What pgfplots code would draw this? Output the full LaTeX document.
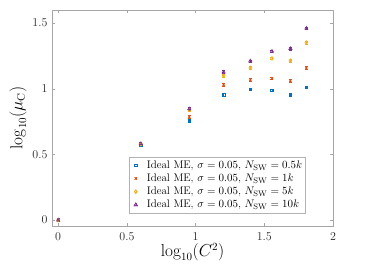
\documentclass[border=0pt]{standalone}
\usepackage{pgfplots}
\pgfplotsset{compat=1.18}
\definecolor{mblue}{rgb}{0,0.447,0.741}
\definecolor{morange}{rgb}{0.85,0.325,0.098}
\definecolor{myellow}{rgb}{0.929,0.694,0.125}
\definecolor{mpurple}{rgb}{0.494,0.184,0.556}
\begin{document}
\begin{tikzpicture}
\begin{axis}[name=ax,
  scale only axis, width=281pt, height=216pt,
  xmin=-0.045, xmax=2, ymin=-0.045, ymax=1.6,
  xtick={0,0.5,1,1.5,2}, ytick={0,0.5,1,1.5},
  tick align=inside, tick pos=both,
  major tick length=3pt,
  axis line style={gray!70}, tick style={gray!70},
  ticklabel style={font=\large, text=black!85},
  xticklabel style={yshift=-3pt},
  yticklabel style={xshift=-1pt},
  xlabel={\fontsize{16}{18}\selectfont$\log_{10}(C^2)$},
  ylabel={\fontsize{16}{18}\selectfont$\log_{10}(\mu_{\mathrm{C}})$},
  xlabel style={yshift=4pt}, ylabel style={yshift=-1pt},
  legend style={at={(0.274,0.06)}, anchor=south west, font=\fontsize{11}{13}\selectfont, draw=gray!60, inner sep=1.5pt, row sep=0pt, cells={anchor=west}},
  legend cell align=left,
  legend image code/.code={\path[draw=none,fill=none] (0cm,0cm) -- (0.5cm,0cm); \draw[#1, line cap=butt] plot coordinates {(0.18cm,0cm) (0.18cm,0cm)};},
  error bars/error bar style={line width=0.6pt},
  error bars/error mark options={rotate=90, mark size=1.5pt, line width=0.6pt},
]
\addplot[only marks, color=mblue, mark=square, mark size=1.3pt, line width=0.7pt,
  error bars/.cd, y dir=both, y explicit] table[y error=e] {
x y e
0 0 0.005
0.602 0.570 0.008
0.954 0.755 0.01
1.204 0.954 0.008
1.398 0.995 0.008
1.556 0.987 0.008
1.690 0.956 0.012
1.806 1.012 0.01
};
\addlegendentry{Ideal ME, $\sigma = 0.05$, $N_{\mathrm{SW}} = 0.5k$}
\addplot[only marks, color=morange, mark=x, mark size=1.6pt, line width=0.7pt,
  error bars/.cd, y dir=both, y explicit] table[y error=e] {
x y e
0 0 0.005
0.602 0.575 0.008
0.954 0.786 0.01
1.204 1.030 0.01
1.398 1.069 0.01
1.556 1.079 0.01
1.690 1.061 0.01
1.806 1.158 0.01
};
\addlegendentry{Ideal ME, $\sigma = 0.05$, $N_{\mathrm{SW}} = 1k$}
\addplot[only marks, color=myellow, mark=diamond, mark size=1.8pt, line width=0.7pt,
  error bars/.cd, y dir=both, y explicit] table[y error=e] {
x y e
0 0 0.005
0.602 0.578 0.008
0.954 0.840 0.008
1.204 1.099 0.012
1.398 1.160 0.012
1.556 1.232 0.01
1.690 1.214 0.012
1.806 1.352 0.012
};
\addlegendentry{Ideal ME, $\sigma = 0.05$, $N_{\mathrm{SW}} = 5k$}
\addplot[only marks, color=mpurple, mark=triangle, mark size=1.8pt, line width=0.7pt,
  error bars/.cd, y dir=both, y explicit] table[y error=e] {
x y e
0 0 0.005
0.602 0.582 0.008
0.954 0.847 0.01
1.204 1.127 0.01
1.398 1.211 0.008
1.556 1.285 0.008
1.690 1.306 0.01
1.806 1.461 0.01
};
\addlegendentry{Ideal ME, $\sigma = 0.05$, $N_{\mathrm{SW}} = 10k$}
\end{axis}
\path ([xshift=-52pt,yshift=-44pt]ax.south west) rectangle ([xshift=41pt,yshift=10pt]ax.north east);
\end{tikzpicture}
\end{document}
